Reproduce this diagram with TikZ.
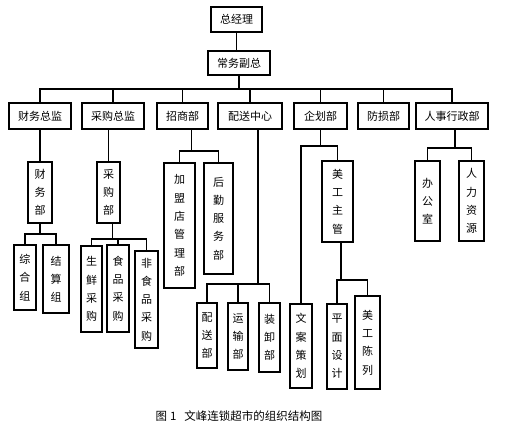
\documentclass[tikz,border=0pt]{standalone}
\usepackage{fontspec}
\usepackage{tikz}
\newfontfamily\cjk{Noto Sans CJK SC}

\begin{document}
\begin{tikzpicture}[
  x=1pt, y=-1pt,
  font=\cjk\fontsize{11}{18.3}\selectfont,
  unit box/.style={
    draw,
    line width=1.9pt,
    align=center,
    inner sep=0pt
  },
  dept box/.style={
    unit box,
    minimum height=26pt
  },
  tall box/.style 2 args={
    unit box,
    minimum width=#1,
    minimum height=#2
  },
  edge/.style={
    draw,
    line width=1.7pt
  },
  caption/.style={
    font=\cjk\fontsize{11.5}{14}\selectfont
  }
]
\useasboundingbox (0,0) rectangle (505,425);

% Management on top
\node[unit box, minimum width=51pt, minimum height=25pt] (gm) at (236.5,19.5) {总经理};
\node[unit box, minimum width=62pt, minimum height=24pt] (deputy) at (239,63) {常务副总};

% Departments under the deputy
\node[dept box, minimum width=62pt] (cfo) at (40,116) {财务总监};
\node[dept box, minimum width=62pt] (cpo) at (113,116) {采购总监};
\node[dept box, minimum width=51pt] (investDept) at (182.5,116) {招商部};
\node[dept box, minimum width=64pt] (distCenter) at (250,116) {配送中心};
\node[dept box, minimum width=53pt] (planDept) at (320.5,116) {企划部};
\node[dept box, minimum width=51pt] (lossDept) at (383.5,116) {防损部};
\node[dept box, minimum width=72pt] (hrDept) at (452,116) {人事行政部};

% Second level, written top to bottom
\node[tall box={24pt}{61pt}] (finDept) at (40,192.5) {财\\务\\部};
\node[tall box={23pt}{61pt}] (purDept) at (108.5,192.5) {采\\购\\部};
\node[tall box={31pt}{125pt}] (franchise) at (179.5,225.5) {加\\盟\\店\\管\\理\\部};
\node[tall box={29pt}{111pt}] (logistics) at (218.5,218.5) {后\\勤\\服\\务\\部};
\node[tall box={31pt}{81pt}] (artLead) at (337.5,201.5) {美\\工\\主\\管};
\node[tall box={25pt}{80pt}] (office) at (427.5,201) {办\\公\\室};
\node[tall box={25pt}{80pt}] (hrRes) at (471.5,201) {人\\力\\资\\源};

% Third level
\node[tall box={22pt}{65pt}] (general) at (25,277.5) {综\\合\\组};
\node[tall box={26pt}{68pt}] (settle) at (56,279) {结\\算\\组};
\node[tall box={21pt}{86pt}] (freshBuy) at (91.5,289) {生\\鲜\\采\\购};
\node[tall box={22pt}{87pt}] (foodBuy) at (118,288.5) {食\\品\\采\\购};
\node[tall box={23pt}{97pt}] (nonfoodBuy) at (146.5,299.5) {非\\食\\品\\采\\购};
\node[tall box={20pt}{65pt}] (delivery) at (207,335.5) {配\\送\\部};
\node[tall box={20pt}{67pt}] (transport) at (238,336.5) {运\\输\\部};
\node[tall box={21pt}{69pt}] (loading) at (269.5,337.5) {装\\卸\\部};
\node[tall box={22pt}{84pt}] (copywriting) at (301,346) {文\\案\\策\\划};
\node[tall box={20pt}{85pt}] (graphic) at (337,346.5) {平\\面\\设\\计};
\node[tall box={25pt}{93pt}] (display) at (367.5,342.5) {美\\工\\陈\\列};

% Caption
\node[caption, anchor=west] (caption) at (152,416)
  {图\hspace{3pt}1\hspace{8pt}文峰连锁超市的组织结构图};

% Reporting lines
\draw[edge] (gm.south) -- (gm.south |- deputy.north);
\draw[edge] (deputy.south) -- ++(0,13) -| (cfo.north);
\draw[edge] (deputy.south) -- ++(0,13) -| (cpo.north);
\draw[edge] (deputy.south) -- ++(0,13) -| (investDept.north);
\draw[edge] (deputy.south) -- ++(0,13) -| (distCenter.north);
\draw[edge] (deputy.south) -- ++(0,13) -| (planDept.north);
\draw[edge] (deputy.south) -- ++(0,13) -| (lossDept.north);
\draw[edge] (deputy.south) -- ++(0,13) -| (hrDept.north);

\draw[edge] (cfo.south) -- (finDept.north);
\draw[edge] (purDept.north |- cpo.south) -- (purDept.north);
\draw[edge] ([xshift=9pt]investDept.south) -- ++(0,21) -| (franchise.north);
\draw[edge] ([xshift=9pt]investDept.south) -- ++(0,21) -| (logistics.north);
\draw[edge] ([xshift=8pt]distCenter.south) -- ++(0,154) -| (delivery.north);
\draw[edge] ([xshift=8pt]distCenter.south) -- ++(0,154) -| (transport.north);
\draw[edge] ([xshift=8pt]distCenter.south) -- ++(0,154) -| (loading.north);
\draw[edge] (planDept.south) -- ++(0,16) -| (copywriting.north);
\draw[edge] (planDept.south) -- ++(0,16) -| (artLead.north);
\draw[edge] ([xshift=3pt]hrDept.south) -- ++(0,18) -| (office.north);
\draw[edge] ([xshift=3pt]hrDept.south) -- ++(0,18) -| (hrRes.north);

\draw[edge] (finDept.south) -- ++(0,10) -| (general.north);
\draw[edge] (finDept.south) -- ++(0,10) -| (settle.north);
\draw[edge] ([xshift=4pt]purDept.south) -- ++(0,15) -| (freshBuy.north);
\draw[edge] ([xshift=4pt]purDept.south) -- ++(0,15) -| (foodBuy.north);
\draw[edge] ([xshift=4pt]purDept.south) -- ++(0,15) -| (nonfoodBuy.north);
\draw[edge] ([xshift=3.5pt]artLead.south) -- ++(0,37) -| (graphic.north);
\draw[edge] ([xshift=3.5pt]artLead.south) -- ++(0,37) -| (display.north);

\end{tikzpicture}
\end{document}
